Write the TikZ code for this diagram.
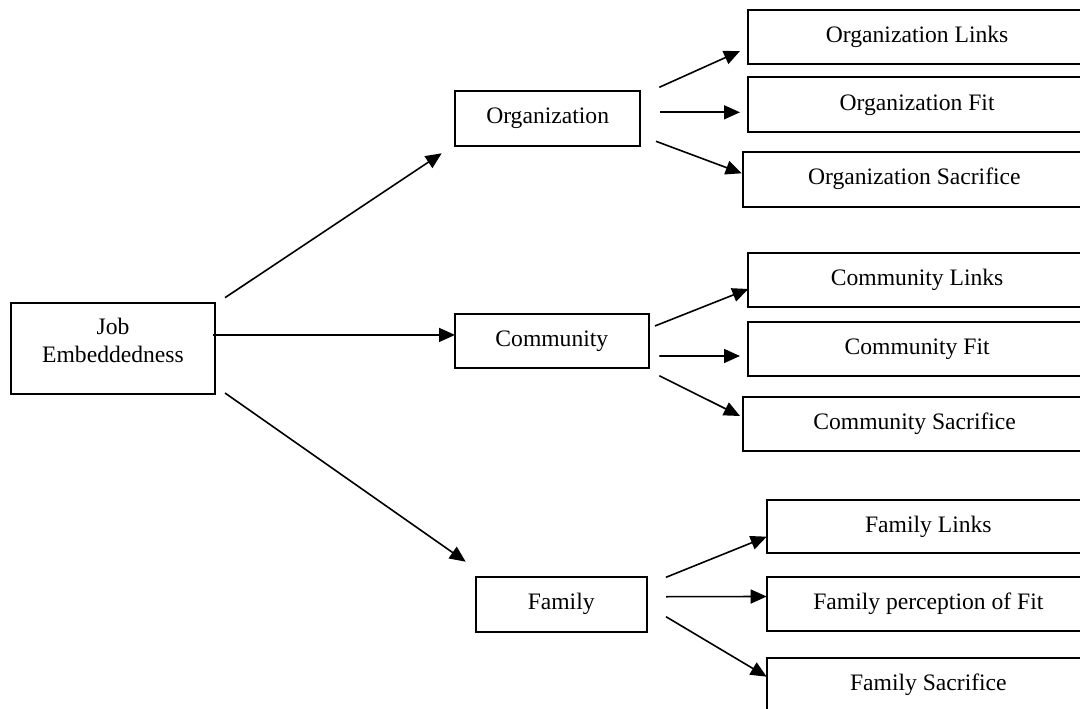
\documentclass[tikz,border=0pt]{standalone}
\usepackage{fontspec}
\setmainfont{Liberation Serif}
\usetikzlibrary{calc,arrows.meta}
\begin{document}
\begin{tikzpicture}[x=1pt,y=-1pt,
  txt/.style={font=\fontsize{23.6pt}{28.5pt}\selectfont},
  box/.style={txt, draw=black, line width=1.9pt, rectangle, inner sep=0pt, outer sep=0pt},
  arr/.style={line width=1.6pt, -{Triangle[length=16pt,width=14pt]}}]
\clip (0,0) rectangle (1080,709);
\fill[white] (0,0) rectangle (1080,709);

% root
\node[box, minimum width=204.3pt, minimum height=91pt] (je) at (112.85,348.5) {};
\node[txt, align=center, inner sep=0pt] (jetext) at (113,340.5) {Job\\Embeddedness};

% dimensions
\node[box, minimum width=185.3pt, minimum height=55pt] (org) at (547.65,118.2) {Organization};
\node[box, minimum width=193.7pt, minimum height=54.3pt] (comm) at (551.85,341.15) {Community};
\node[box, minimum width=171pt, minimum height=55pt] (fam) at (561.2,604.2) {Family};

% organization facets
\node[box, minimum width=337.7pt, minimum height=54.3pt] (ol) at (917.15,37.15) {Organization Links};
\node[box, minimum width=337.7pt, minimum height=55pt] (of) at (917.15,104.8) {Organization Fit};
\node[box, minimum width=343.3pt, minimum height=55pt] (os) at (914.35,179.2) {Organization Sacrifice};

% community facets
\node[box, minimum width=337.7pt, minimum height=54pt] (cl) at (917.15,280.3) {Community Links};
\node[box, minimum width=337.7pt, minimum height=54.3pt] (cf) at (917.15,348.85) {Community Fit};
\node[box, minimum width=342.7pt, minimum height=54pt] (cs) at (914.65,423.7) {Community Sacrifice};

% family facets
\node[box, minimum width=323.3pt, minimum height=53.3pt] (fl) at (928.35,526.65) {Family Links};
\node[box, minimum width=323.3pt, minimum height=54.6pt] (ff) at (928.35,604) {Family perception of Fit};
\node[box, minimum width=323.3pt, minimum height=55pt] (fs) at (928.35,685.2) {Family Sacrifice};

% root to dimensions
\draw[arr] ($(je.north east)+(10,-5.3)$) -- ($(org.south west)+(-13.3,7.6)$);
\draw[arr] ($(je.east)+(-2,-13.5)$) -- ($(comm.west)+(0,-6.2)$);
\draw[arr] ($(je.south east)+(10,-1)$) -- ($(fam.north west)+(-10,-15)$);

% organization to facets
\draw[arr] ($(org.north east)+(19,-3.4)$) -- ($(ol.south west)+(-8.3,-13.3)$);
\draw[arr] ($(org.east)+(19.7,-5.9)$) -- ($(of.west)+(-8.3,7.5)$);
\draw[arr] ($(org.south east)+(15.7,-4.4)$) -- ($(os.west)+(-1,-5.9)$);

% community to facets
\draw[arr] ($(comm.east)+(6.3,-15.2)$) -- ($(cl.south west)+(0,-18.3)$);
\draw[arr] ($(comm.east)+(10.6,14.8)$) -- ($(cf.west)+(-8.3,7.15)$);
\draw[arr] ($(comm.south east)+(10.6,7.4)$) -- ($(cs.west)+(-3.3,-7.7)$);

% family to facets
\draw[arr] ($(fam.north east)+(19.3,0.6)$) -- ($(fl.south west)+(0,-16.6)$);
\draw[arr] ($(fam.east)+(19.3,-7.5)$) -- ($(ff.west)+(0,-7.5)$);
\draw[arr] ($(fam.east)+(19.3,12.5)$) -- ($(fs.north west)+(0,19)$);
\end{tikzpicture}
\end{document}
